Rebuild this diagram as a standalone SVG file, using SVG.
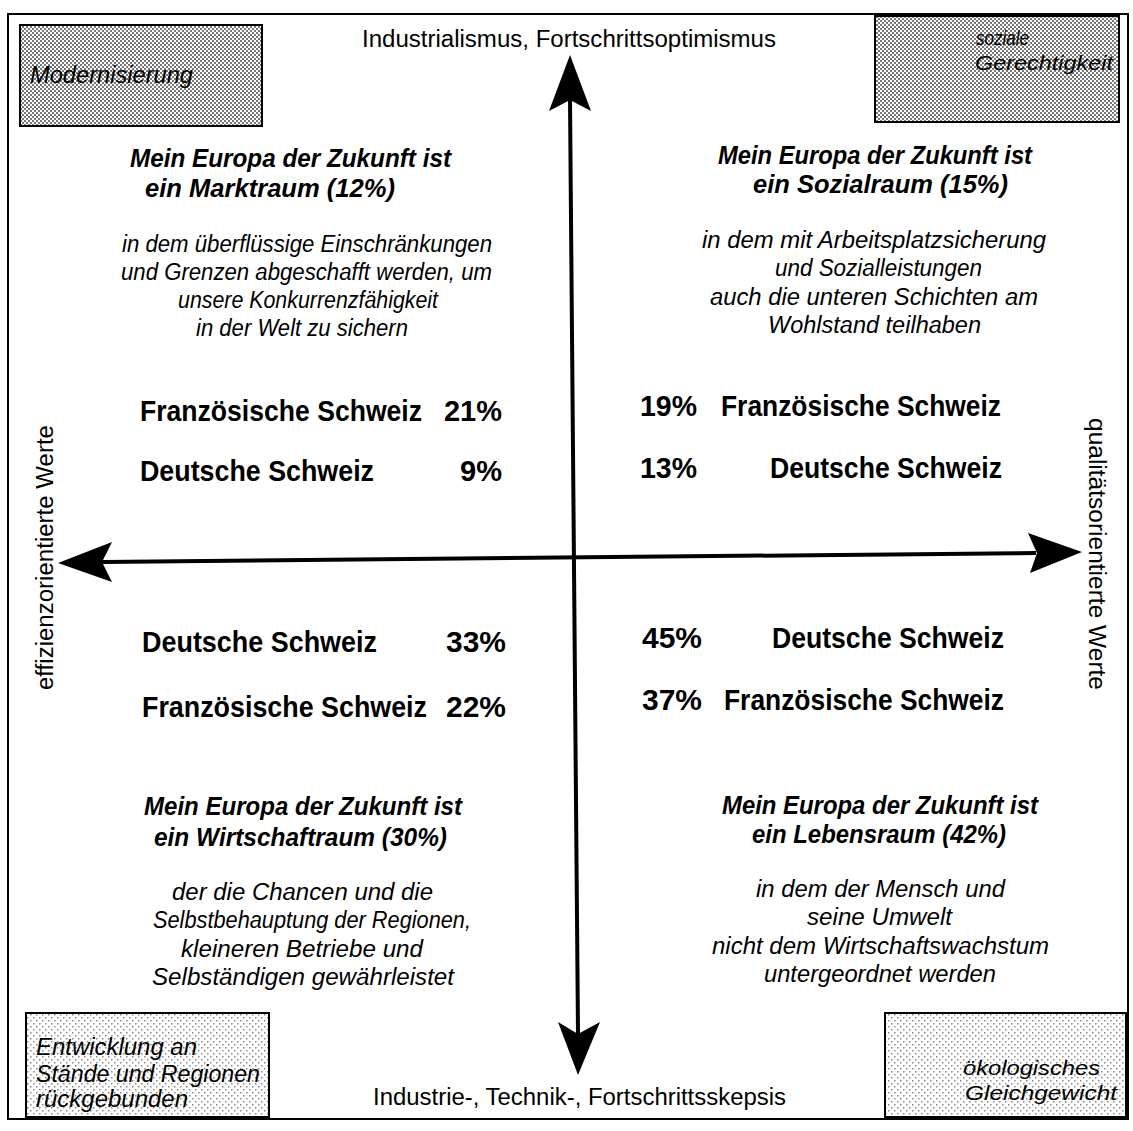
<svg xmlns="http://www.w3.org/2000/svg" width="1133" height="1131" viewBox="0 0 1133 1131">
<defs>
<pattern id="dense" width="4" height="4" patternUnits="userSpaceOnUse">
<rect width="4" height="4" fill="#fff"/>
<rect x="0" y="0" width="2" height="2" fill="#777"/>
<rect x="2" y="2" width="2" height="2" fill="#777"/>
</pattern>
<pattern id="light" width="6" height="6" patternUnits="userSpaceOnUse">
<rect width="6" height="6" fill="#fff"/>
<rect x="0" y="0" width="1.5" height="1.5" fill="#888"/>
<rect x="3" y="3" width="1.5" height="1.5" fill="#888"/>
</pattern>
</defs>
<style>
text{font-family:"Liberation Sans Narrow","Liberation Sans",Arial,sans-serif;fill:#000}
.lbl{font-size:23px}
.it{font-size:23px;font-style:italic}
.bx{font-size:21px;font-style:italic}
.hd{font-size:26px;font-style:italic;font-weight:bold}
.st{font-size:29px;font-weight:bold}
.box{stroke:#000;stroke-width:2}
.ax{stroke:#000;stroke-width:4;fill:none}
.ah{fill:#000;stroke:none}
</style>
<rect x="8" y="14" width="1120" height="1105" fill="#fff" stroke="#000" stroke-width="2"/>

<g id="connectors">
<line class="ax" x1="570" y1="100" x2="578" y2="1034"/>
<polygon class="ah" points="570,55 549,111 570,100 591,111"/>
<polygon class="ah" points="578,1075 558,1022 578,1034 600,1022"/>
<line class="ax" x1="102" y1="562" x2="1036" y2="553"/>
<polygon class="ah" points="58,563 112,542 102,562 112,582"/>
<polygon class="ah" points="1082,552 1028,533 1037,553 1030,573"/>
</g>

<g id="node-modernisierung">
<rect class="box" x="20" y="25" width="242" height="101" fill="url(#dense)"/>
<text class="it" x="30" y="83" textLength="163" lengthAdjust="spacingAndGlyphs">Modernisierung</text>
</g>
<g id="node-soziale-gerechtigkeit">
<rect class="box" x="875" y="16" width="244" height="106" fill="url(#dense)"/>
<text class="bx" x="976" y="45" textLength="53" lengthAdjust="spacingAndGlyphs">soziale</text>
<text class="bx" x="975" y="70" textLength="138" lengthAdjust="spacingAndGlyphs">Gerechtigkeit</text>
</g>
<g id="node-entwicklung">
<rect class="box" x="26" y="1013" width="243" height="104" fill="url(#light)"/>
<text class="it" x="36" y="1055" textLength="161" lengthAdjust="spacingAndGlyphs">Entwicklung an</text>
<text class="it" x="36" y="1082" textLength="224" lengthAdjust="spacingAndGlyphs">Stände und Regionen</text>
<text class="it" x="36" y="1107" textLength="152" lengthAdjust="spacingAndGlyphs">rückgebunden</text>
</g>
<g id="node-oekologisches">
<rect class="box" x="885" y="1013" width="241" height="104" fill="url(#light)"/>
<text class="bx" x="963" y="1075" textLength="137" lengthAdjust="spacingAndGlyphs">ökologisches</text>
<text class="bx" x="965" y="1100" textLength="152" lengthAdjust="spacingAndGlyphs">Gleichgewicht</text>
</g>

<g id="axis-labels">
<text class="lbl" x="362" y="47" textLength="414" lengthAdjust="spacingAndGlyphs">Industrialismus, Fortschrittsoptimismus</text>
<text class="lbl" x="373" y="1105" textLength="413" lengthAdjust="spacingAndGlyphs">Industrie-, Technik-, Fortschrittsskepsis</text>
<text class="lbl" transform="translate(53,690) rotate(-90)" x="0" y="0" textLength="265" lengthAdjust="spacingAndGlyphs">effizienzorientierte Werte</text>
<text class="lbl" transform="translate(1089,418) rotate(90)" x="0" y="0" textLength="272" lengthAdjust="spacingAndGlyphs">qualitätsorientierte Werte</text>
</g>

<g id="quadrant-marktraum">
<text class="hd" x="130" y="167" textLength="321" lengthAdjust="spacingAndGlyphs">Mein Europa der Zukunft ist</text>
<text class="hd" x="145" y="197" textLength="250" lengthAdjust="spacingAndGlyphs">ein Marktraum (12%)</text>
<text class="it" x="122" y="252" textLength="370" lengthAdjust="spacingAndGlyphs">in dem überflüssige Einschränkungen</text>
<text class="it" x="121" y="280" textLength="371" lengthAdjust="spacingAndGlyphs">und Grenzen abgeschafft werden, um</text>
<text class="it" x="178" y="308" textLength="260" lengthAdjust="spacingAndGlyphs">unsere Konkurrenzfähigkeit</text>
<text class="it" x="196" y="336" textLength="212" lengthAdjust="spacingAndGlyphs">in der Welt zu sichern</text>
<text class="st" x="140" y="421" textLength="282" lengthAdjust="spacingAndGlyphs">Französische Schweiz</text>
<text class="st" x="444" y="421" textLength="58" lengthAdjust="spacingAndGlyphs">21%</text>
<text class="st" x="140" y="481" textLength="234" lengthAdjust="spacingAndGlyphs">Deutsche Schweiz</text>
<text class="st" x="460" y="481" textLength="42" lengthAdjust="spacingAndGlyphs">9%</text>
</g>

<g id="quadrant-sozialraum">
<text class="hd" x="718" y="164" textLength="314" lengthAdjust="spacingAndGlyphs">Mein Europa der Zukunft ist</text>
<text class="hd" x="753" y="193" textLength="255" lengthAdjust="spacingAndGlyphs">ein Sozialraum (15%)</text>
<text class="it" x="702" y="248" textLength="344" lengthAdjust="spacingAndGlyphs">in dem mit Arbeitsplatzsicherung</text>
<text class="it" x="775" y="276" textLength="207" lengthAdjust="spacingAndGlyphs">und Sozialleistungen</text>
<text class="it" x="710" y="305" textLength="328" lengthAdjust="spacingAndGlyphs">auch die unteren Schichten am</text>
<text class="it" x="768" y="333" textLength="213" lengthAdjust="spacingAndGlyphs">Wohlstand teilhaben</text>
<text class="st" x="640" y="416" textLength="57" lengthAdjust="spacingAndGlyphs">19%</text>
<text class="st" x="721" y="416" textLength="280" lengthAdjust="spacingAndGlyphs">Französische Schweiz</text>
<text class="st" x="640" y="478" textLength="57" lengthAdjust="spacingAndGlyphs">13%</text>
<text class="st" x="770" y="478" textLength="232" lengthAdjust="spacingAndGlyphs">Deutsche Schweiz</text>
</g>

<g id="quadrant-wirtschaftraum">
<text class="st" x="142" y="652" textLength="235" lengthAdjust="spacingAndGlyphs">Deutsche Schweiz</text>
<text class="st" x="446" y="652" textLength="60" lengthAdjust="spacingAndGlyphs">33%</text>
<text class="st" x="142" y="717" textLength="285" lengthAdjust="spacingAndGlyphs">Französische Schweiz</text>
<text class="st" x="446" y="717" textLength="60" lengthAdjust="spacingAndGlyphs">22%</text>
<text class="hd" x="144" y="815" textLength="318" lengthAdjust="spacingAndGlyphs">Mein Europa der Zukunft ist</text>
<text class="hd" x="154" y="846" textLength="293" lengthAdjust="spacingAndGlyphs">ein Wirtschaftraum (30%)</text>
<text class="it" x="172" y="900" textLength="261" lengthAdjust="spacingAndGlyphs">der die Chancen und die</text>
<text class="it" x="153" y="928" textLength="318" lengthAdjust="spacingAndGlyphs">Selbstbehauptung der Regionen,</text>
<text class="it" x="181" y="957" textLength="242" lengthAdjust="spacingAndGlyphs">kleineren Betriebe und</text>
<text class="it" x="152" y="985" textLength="302" lengthAdjust="spacingAndGlyphs">Selbständigen gewährleistet</text>
</g>

<g id="quadrant-lebensraum">
<text class="st" x="642" y="648" textLength="60" lengthAdjust="spacingAndGlyphs">45%</text>
<text class="st" x="772" y="648" textLength="232" lengthAdjust="spacingAndGlyphs">Deutsche Schweiz</text>
<text class="st" x="642" y="710" textLength="60" lengthAdjust="spacingAndGlyphs">37%</text>
<text class="st" x="724" y="710" textLength="280" lengthAdjust="spacingAndGlyphs">Französische Schweiz</text>
<text class="hd" x="722" y="814" textLength="316" lengthAdjust="spacingAndGlyphs">Mein Europa der Zukunft ist</text>
<text class="hd" x="752" y="843" textLength="254" lengthAdjust="spacingAndGlyphs">ein Lebensraum (42%)</text>
<text class="it" x="756" y="897" textLength="249" lengthAdjust="spacingAndGlyphs">in dem der Mensch und</text>
<text class="it" x="807" y="925" textLength="145" lengthAdjust="spacingAndGlyphs">seine Umwelt</text>
<text class="it" x="712" y="954" textLength="337" lengthAdjust="spacingAndGlyphs">nicht dem Wirtschaftswachstum</text>
<text class="it" x="764" y="982" textLength="232" lengthAdjust="spacingAndGlyphs">untergeordnet werden</text>
</g>
</svg>
